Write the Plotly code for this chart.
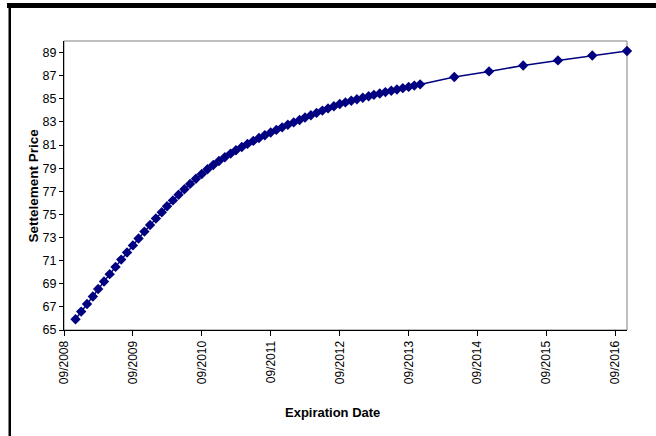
import plotly.graph_objects as go

# Expiration months (Excel month base unit): monthly Nov-2008..Nov-2013, then semi-annual
monthly_dates = [f"{2008 + (10 + i) // 12}-{(10 + i) % 12 + 1:02d}-01" for i in range(61)]
semiannual_dates = ["2014-05-01", "2014-11-01", "2015-05-01", "2015-11-01", "2016-05-01", "2016-11-01"]
expiration_dates = monthly_dates + semiannual_dates

settlement_prices = [
    65.93, 66.59, 67.25, 67.90, 68.55, 69.19, 69.83, 70.46, 71.09, 71.71,
    72.32, 72.92, 73.51, 74.08, 74.64, 75.18, 75.70, 76.21, 76.70, 77.18,
    77.64, 78.08, 78.50, 78.90, 79.27, 79.62, 79.95, 80.26, 80.55, 80.83,
    81.10, 81.36, 81.61, 81.85, 82.08, 82.31, 82.53, 82.75, 82.96, 83.17,
    83.38, 83.58, 83.78, 83.98, 84.17, 84.36, 84.55, 84.69, 84.83, 84.96,
    85.09, 85.22, 85.34, 85.46, 85.58, 85.70, 85.81, 85.92, 86.03, 86.14,
    86.25,
    86.88, 87.37, 87.88, 88.32, 88.75, 89.13,
]

x_tick_dates = [f"{y}-09-01" for y in range(2008, 2017)]
x_tick_labels = [f"09/{y}" for y in range(2008, 2017)]
y_tick_values = list(range(65, 90, 2))

# Canvas geometry (pixels)
W, H = 656, 436
L, R, T, B = 64, 29, 41, 106
PW, PH = W - L - R, H - T - B


def px_x(px):
    return (px - L) / PW


def px_y(py):
    return (H - B - py) / PH


NAVY = "#000080"
FONT = "Liberation Sans, Arial, sans-serif"

fig = go.Figure(
    go.Scatter(
        x=expiration_dates,
        y=settlement_prices,
        mode="lines+markers",
        line=dict(color=NAVY, width=1.5),
        marker=dict(symbol="diamond", size=8, color=NAVY),
        cliponaxis=False,
        showlegend=False,
    )
)

fig.update_layout(
    width=W,
    height=H,
    margin=dict(l=L, r=R, t=T, b=B),
    paper_bgcolor="white",
    plot_bgcolor="white",
    font=dict(family=FONT, size=12, color="black"),
    xaxis=dict(
        type="date",
        range=["2008-09-01", "2016-11-01"],
        tickvals=x_tick_dates,
        ticktext=x_tick_labels,
        tickangle=-90,
        ticks="outside",
        ticklen=5,
        tickcolor="black",
        showline=True,
        linecolor="black",
        linewidth=1,
        showgrid=False,
        zeroline=False,
        tickfont=dict(family=FONT, size=12),
    ),
    yaxis=dict(
        range=[65, 90],
        tickvals=y_tick_values,
        ticks="outside",
        ticklen=4,
        tickcolor="black",
        showline=True,
        linecolor="black",
        linewidth=1,
        showgrid=False,
        zeroline=False,
        tickfont=dict(family=FONT, size=12.5),
    ),
    shapes=[
        # plot-area border (top and right edges in grey)
        dict(type="rect", xref="paper", yref="paper", x0=0, x1=1, y0=0, y1=1,
             line=dict(color="#808080", width=1), layer="below"),
        # outer chart frame: heavy top edge and left edge
        dict(type="rect", xref="paper", yref="paper",
             x0=px_x(7), x1=px_x(660), y0=px_y(8), y1=px_y(3),
             fillcolor="black", line=dict(width=0)),
        dict(type="rect", xref="paper", yref="paper",
             x0=px_x(8.5), x1=px_x(11), y0=px_y(440), y1=px_y(3),
             fillcolor="black", line=dict(width=0)),
    ],
    annotations=[
        dict(text="<b>Settelement Price</b>", xref="paper", yref="paper",
             x=px_x(33), y=0.5, textangle=-90, showarrow=False,
             font=dict(family=FONT, size=13.5), xanchor="center", yanchor="middle"),
        dict(text="<b>Expiration Date</b>", xref="paper", yref="paper",
             x=px_x(332), y=px_y(412), showarrow=False,
             font=dict(family=FONT, size=13), xanchor="center", yanchor="middle"),
    ],
)

fig.write_html("out.html")
